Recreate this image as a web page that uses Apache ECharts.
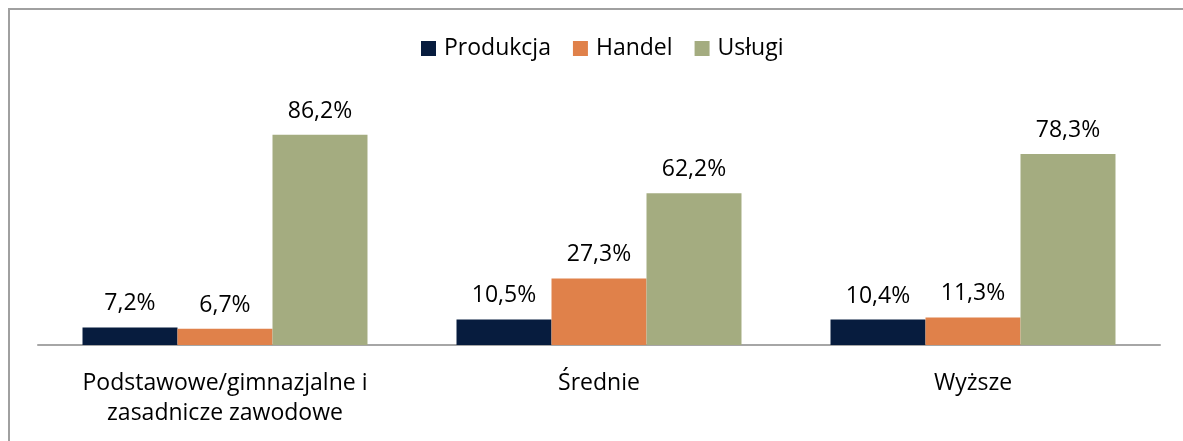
<!DOCTYPE html>
<html>
<head>
<meta charset="utf-8">
<script src="https://cdn.jsdelivr.net/npm/echarts@6/dist/echarts.min.js"></script>
<style>
  html, body { margin: 0; padding: 0; background: #fff; }
  .frame {
    position: absolute;
    left: 8px;
    top: 8px;
    width: 1200px;
    height: 460px;
    border-left: 2px solid #a0a0a0;
    border-top: 2px solid #a0a0a0;
  }
  #barChart {
    position: absolute;
    left: 0;
    top: 0;
    width: 1183px;
    height: 441px;
  }
</style>
</head>
<body>
<div class="frame"></div>
<div id="barChart"></div>
<script>
  // dane
  let categories = ['Podstawowe/gimnazjalne i\nzasadnicze zawodowe', 'Średnie', 'Wyższe'];
  let produkcja = [7.2, 10.5, 10.4];
  let handel = [6.7, 27.3, 11.3];
  let uslugi = [86.2, 62.2, 78.3];

  let fontName = 'Open Sans';
  let labelFmt = function (p) {
    return p.value.toFixed(1).replace('.', ',') + '%';
  };

  function makeSeries(name, data, color) {
    return {
      name: name,
      type: 'bar',
      data: data,
      barGap: '0%',
      barCategoryGap: '23.8%',
      itemStyle: { color: color },
      label: {
        show: true,
        position: 'top',
        distance: 12,
        color: '#000',
        fontSize: 23,
        fontFamily: fontName,
        formatter: labelFmt,
      },
    };
  }

  let option = {
    animation: false,
    legend: {
      top: 37,
      left: 421,
      padding: 0,
      itemWidth: 15,
      itemHeight: 15,
      itemGap: 22,
      icon: 'rect',
      textStyle: {
        color: '#000',
        fontSize: 23,
        fontFamily: fontName,
        padding: [0, 0, 0, 3],
      },
    },
    grid: {
      left: 38,
      right: 23,
      top: 101,
      bottom: 96,
    },
    xAxis: {
      type: 'category',
      data: categories,
      axisTick: { show: false },
      axisLine: { lineStyle: { color: '#a6a6a6', width: 2 } },
      axisLabel: {
        color: '#000',
        fontSize: 23,
        fontFamily: fontName,
        lineHeight: 30,
        margin: 23,
        interval: 0,
      },
    },
    yAxis: {
      type: 'value',
      min: 0,
      max: 100,
      show: false,
      splitLine: { show: false },
    },
    series: [
      makeSeries('Produkcja', produkcja, '#071c3e'),
      makeSeries('Handel', handel, '#e0814a'),
      makeSeries('Usługi', uslugi, '#a4ac80'),
    ],
  };

  let myChart = echarts.init(document.getElementById('barChart'));
  myChart.setOption(option);
</script>
</body>
</html>
